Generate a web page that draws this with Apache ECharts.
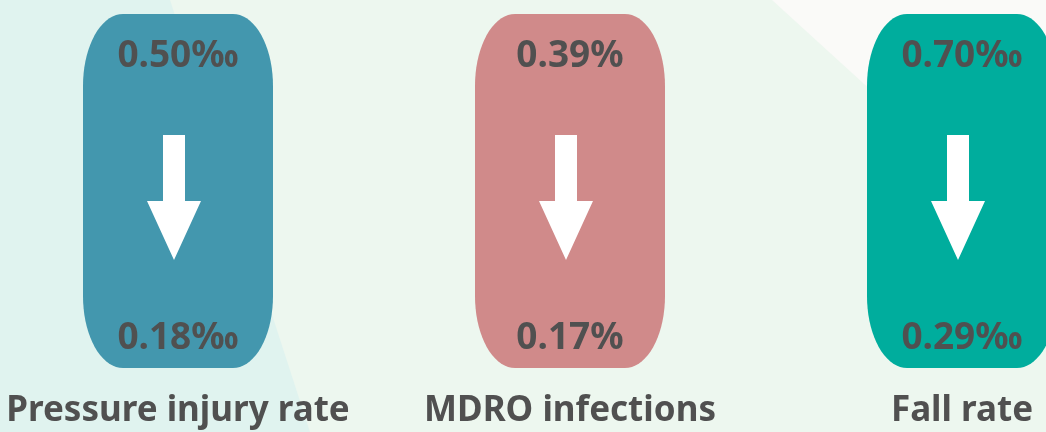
<!DOCTYPE html>
<html>
<head>
<meta charset="utf-8">
<script src="https://cdn.jsdelivr.net/npm/echarts@6/dist/echarts.min.js"></script>
<style>
html,body{margin:0;padding:0;background:#edf7ef;}
#chart{width:1046px;height:432px;}
</style>
</head>
<body>
<div id="chart"></div>
<script>
// ---- data ----
const categories = ['Pressure injury rate', 'MDRO infections', 'Fall rate'];
const beforeLabels = ['0.50‰', '0.39%', '0.70‰'];
const afterLabels = ['0.18‰', '0.17%', '0.29‰'];
const boxColors = ['#4397ae', '#d08a8a', '#00ad9d'];

const chart = echarts.init(document.getElementById('chart'));

const BOX_W = 190, RX = 40, RY = 72;
const TEXT_COLOR = '#505050';

function roundedPoints(x0, y0, x1, y1, rx, ry) {
  const pts = [];
  const n = 18;
  const corners = [
    [x1 - rx, y0 + ry, -Math.PI / 2, 0],
    [x1 - rx, y1 - ry, 0, Math.PI / 2],
    [x0 + rx, y1 - ry, Math.PI / 2, Math.PI],
    [x0 + rx, y0 + ry, Math.PI, Math.PI * 1.5]
  ];
  corners.forEach(([cx, cy, a0, a1]) => {
    for (let i = 0; i <= n; i++) {
      const a = a0 + (a1 - a0) * i / n;
      pts.push([cx + rx * Math.cos(a), cy + ry * Math.sin(a)]);
    }
  });
  return pts;
}

function renderItem(params, api) {
  const idx = api.value(0);
  const top = api.coord([idx, 1]);
  const bot = api.coord([idx, 0]);
  const cx = top[0];
  const x0 = cx - BOX_W / 2, x1 = cx + BOX_W / 2;
  const y0 = top[1], y1 = bot[1];
  const ax = cx - 4, ay = y0 + 121;
  const arrow = [
    [ax - 11, ay], [ax + 11, ay], [ax + 11, ay + 66], [ax + 27, ay + 66],
    [ax, ay + 125], [ax - 27, ay + 66], [ax - 11, ay + 66]
  ];
  const font = 'bold 37px "Noto Sans", sans-serif';
  return {
    type: 'group',
    children: [
      { type: 'polygon', shape: { points: roundedPoints(x0, y0, x1, y1, RX, RY) }, style: { fill: boxColors[idx] } },
      { type: 'polygon', shape: { points: arrow }, style: { fill: '#ffffff' } },
      { type: 'text', style: { text: beforeLabels[idx], x: cx, y: y0 + 42, align: 'center', verticalAlign: 'middle', font: font, fill: TEXT_COLOR } },
      { type: 'text', style: { text: afterLabels[idx], x: cx, y: y1 - 30, align: 'center', verticalAlign: 'middle', font: font, fill: TEXT_COLOR } },
      { type: 'text', style: { text: categories[idx], x: cx, y: y1 + 43, align: 'center', verticalAlign: 'middle', font: 'bold 35px "Noto Sans", sans-serif', fill: TEXT_COLOR } }
    ]
  };
}

chart.setOption({
  backgroundColor: '#edf7ef',
  animation: false,
  graphic: [
    { type: 'polygon', z: -10, shape: { points: [[0, 0], [170, 0], [310, 432], [0, 432]] }, style: { fill: '#e0f3ef' } },
    { type: 'polygon', z: -10, shape: { points: [[772, 0], [1046, 0], [1046, 250]] }, style: { fill: '#fafaf8' } }
  ],
  grid: { left: 178, right: 84, top: 14, bottom: 64 },
  xAxis: { type: 'category', data: categories, boundaryGap: false, show: false },
  yAxis: { type: 'value', min: 0, max: 1, show: false },
  series: [{
    type: 'custom',
    renderItem: renderItem,
    data: categories.map((c, i) => [i]),
    clip: false
  }]
});
</script>
</body>
</html>
